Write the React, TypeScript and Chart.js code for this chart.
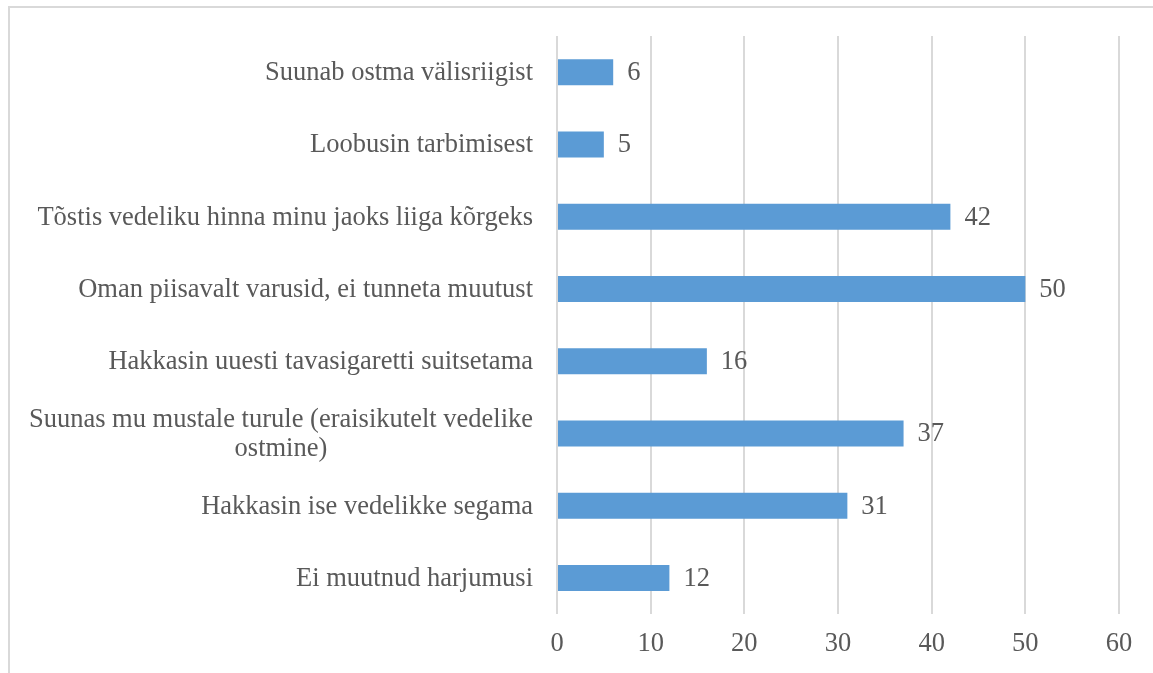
import React, { useEffect, useRef } from "react";
import { Chart, registerables } from "chart.js";

Chart.register(...registerables);

const categories: (string | string[])[] = [
  "Suunab ostma välisriigist",
  "Loobusin tarbimisest",
  "Tõstis vedeliku hinna minu jaoks liiga kõrgeks",
  "Oman piisavalt varusid, ei tunneta muutust",
  "Hakkasin uuesti tavasigaretti suitsetama",
  ["Suunas mu mustale turule (eraisikutelt vedelike", "ostmine)"],
  "Hakkasin ise vedelikke segama",
  "Ei muutnud harjumusi",
];
const values = [6, 5, 42, 50, 16, 37, 31, 12];
const xMin = 0;
const xMax = 60;
const xStep = 10;

const FONT = "'Liberation Serif', 'Times New Roman', serif";
const TEXT = "#595959";
const FS = 26.5;

const labelPlugin = {
  id: "customLabels",
  afterDatasetsDraw(chart: any) {
    const ctx = chart.ctx;
    const yScale = chart.scales.y;
    ctx.save();
    ctx.font = `${FS}px ${FONT}`;
    ctx.fillStyle = TEXT;
    ctx.textBaseline = "middle";
    const right = chart.chartArea.left - 24;
    const lh = 29;
    categories.forEach((lab, i) => {
      const lines = Array.isArray(lab) ? lab : [lab];
      const cy = yScale.getPixelForValue(i);
      const maxW = Math.max(...lines.map((l) => ctx.measureText(l).width));
      ctx.textAlign = "center";
      lines.forEach((l, j) => {
        const ly = cy + (j - (lines.length - 1) / 2) * lh + 1;
        ctx.fillText(l, right - maxW / 2, ly);
      });
    });
    const meta = chart.getDatasetMeta(0);
    ctx.textAlign = "left";
    meta.data.forEach((bar: any, i: number) => {
      ctx.fillText(String(values[i]), bar.x + 14, bar.y + 1);
    });
    ctx.restore();
  },
};

export default function App() {
  const ref = useRef<HTMLCanvasElement>(null);
  useEffect(() => {
    if (!ref.current) return;
    const chart = new Chart(ref.current, {
      type: "bar",
      data: {
        labels: categories.map((c) => (Array.isArray(c) ? c.join(" ") : c)),
        datasets: [
          {
            data: values,
            backgroundColor: "#5b9bd5",
            borderWidth: 0,
            categoryPercentage: 1,
            barPercentage: 0.36,
          },
        ],
      },
      options: {
        indexAxis: "y",
        animation: false,
        responsive: false,
        maintainAspectRatio: false,
        layout: { padding: { left: 547, top: 28, right: 34, bottom: -1 } },
        plugins: { legend: { display: false }, tooltip: { enabled: false } },
        scales: {
          x: {
            min: xMin,
            max: xMax,
            ticks: {
              stepSize: xStep,
              color: TEXT,
              font: { family: FONT, size: FS },
              padding: 14,
            },
            grid: { color: "#d9d9d9", lineWidth: 2, drawTicks: false },
            border: { display: false },
          },
          y: {
            ticks: { display: false },
            grid: { display: false, drawTicks: false },
            border: { display: false },
          },
        },
      },
      plugins: [labelPlugin],
    });
    return () => chart.destroy();
  }, []);
  return (
    <div
      style={{
        position: "fixed",
        left: 8,
        top: 6,
        width: 1160,
        height: 680,
        borderLeft: "2px solid #d9d9d9",
        borderTop: "2px solid #d9d9d9",
        background: "#fff",
      }}
    >
      <canvas ref={ref} width={1143} height={665} style={{ display: "block" }} />
    </div>
  );
}
